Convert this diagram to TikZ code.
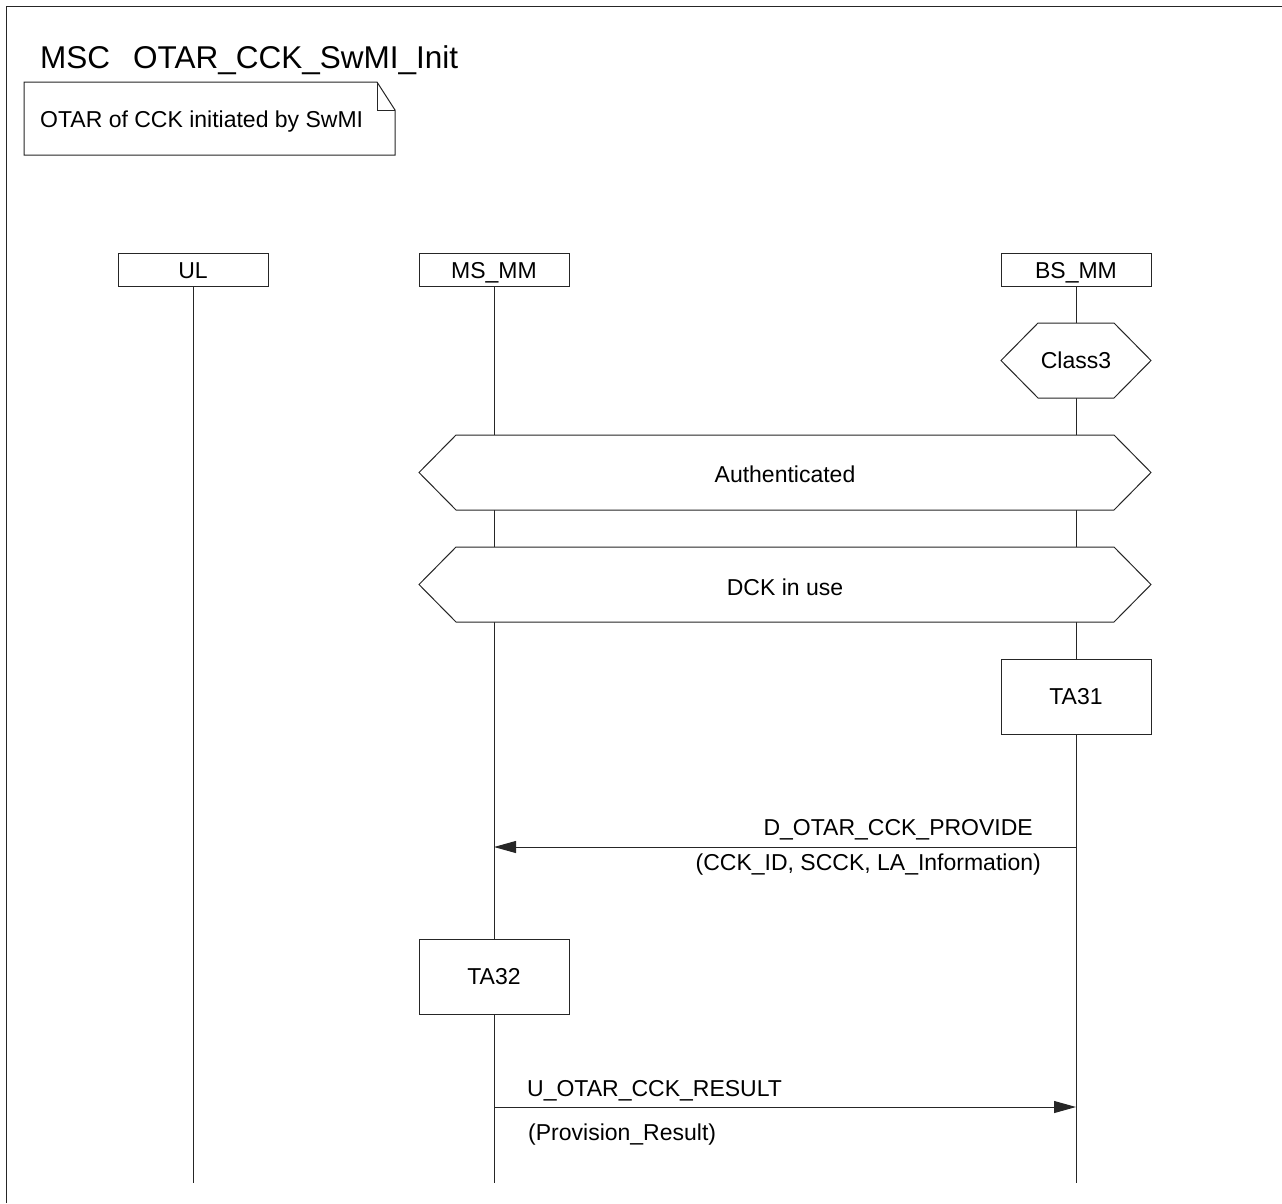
\documentclass[tikz,border=0pt]{standalone}
\usepackage{fontspec}
\setmainfont{Liberation Sans}
\usetikzlibrary{arrows.meta}
\begin{document}
\begin{tikzpicture}[x=1pt,y=-1pt,
  ln/.style={line width=1pt, draw=black!85},
  lbl/.style={font=\fontsize{23}{26}\selectfont, inner sep=0pt, text height=16.5pt, text depth=0pt},
  head/.style={lbl, ln, minimum width=150pt, minimum height=33pt},
  actbox/.style={lbl, ln, fill=white, minimum width=150pt, minimum height=75pt},
  msg/.style={ln, -{Triangle[length=22pt,width=12pt]}},
  txt/.style={font=\fontsize{23}{26}\selectfont, inner sep=0pt, anchor=base west}
]
\useasboundingbox (0,0) rectangle (1282,1203);
% frame
\draw[ln] (6,1203) -- (6,6) -- (1282,6);
% title
\node[font=\fontsize{31.5}{34}\selectfont, inner sep=0pt, anchor=base west] (msc) at (40,68) {MSC};
\node[font=\fontsize{31.5}{34}\selectfont, inner sep=0pt, anchor=base west] (title) at (133,68) {OTAR\_CCK\_SwMI\_Init};
% note
\draw[ln, fill=white] (24,82) -- (377,82) -- (395,110) -- (395,155) -- (24,155) -- cycle;
\draw[ln] (377,82) -- (377,110) -- (395,110);
\node[txt] (note) at (40,127) {OTAR of CCK initiated by SwMI};
% instance heads
\node[head] (ul) at (193,270) {UL};
\node[head] (ms) at (494,270) {MS\_MM};
\node[head] (bs) at (1076,270) {BS\_MM};
\coordinate (ulend) at (193,1183);
\coordinate (msend) at (494,1183);
\coordinate (bsend) at (1076,1183);
\draw[ln] (ul.south) -- (ulend);
\draw[ln] (ms.south) -- (msend);
\draw[ln] (bs.south) -- (bsend);
% Class3 condition
\draw[ln, fill=white] (1001,360.5) -- (1038,323) -- (1114,323) -- (1151,360.5) -- (1114,398) -- (1038,398) -- cycle;
\node[lbl] (class3) at (1076,360.5) {Class3};
% Authenticated
\draw[ln, fill=white] (419,472.5) -- (456,435) -- (1114,435) -- (1151,472.5) -- (1114,510) -- (456,510) -- cycle;
\node[lbl] (auth) at (785,474) {Authenticated};
% DCK in use
\draw[ln, fill=white] (419,584.5) -- (456,547) -- (1114,547) -- (1151,584.5) -- (1114,622) -- (456,622) -- cycle;
\node[lbl] (dck) at (785,587) {DCK in use};
% TA31
\node[actbox] (ta31) at (1076,696.5) {TA31};
% D_OTAR_CCK_PROVIDE
\coordinate (m1s) at (1076,847);
\coordinate (m1e) at (494,847);
\draw[msg] (m1s) -- (m1e);
\node[txt, anchor=base east] (m1l) at (1033,835) {D\_OTAR\_CCK\_PROVIDE};
\node[txt, anchor=base east] (m1p) at (1041,870) {(CCK\_ID, SCCK, LA\_Information)};
% TA32
\node[actbox] (ta32) at (494,976.5) {TA32};
% U_OTAR_CCK_RESULT
\coordinate (m2s) at (494,1107);
\coordinate (m2e) at (1076,1107);
\draw[msg] (m2s) -- (m2e);
\node[txt] (m2l) at (527,1096) {U\_OTAR\_CCK\_RESULT};
\node[txt] (m2p) at (528,1140) {(Provision\_Result)};
\end{tikzpicture}
\end{document}
